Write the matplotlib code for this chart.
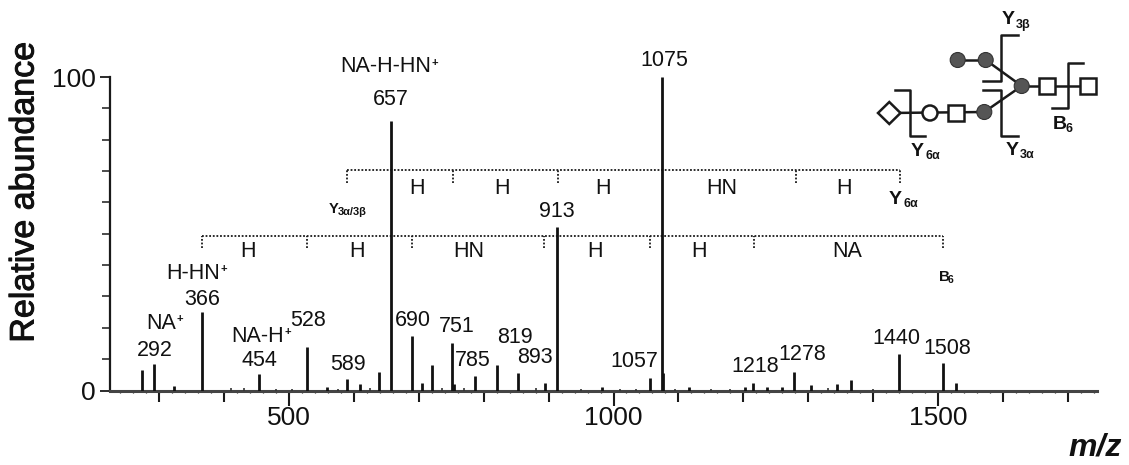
import matplotlib
matplotlib.use("Agg")
import matplotlib.pyplot as plt
import matplotlib.patheffects as pe
from matplotlib.patches import Circle, Rectangle, Polygon

plt.rcParams['font.family'] = ['Liberation Sans', 'DejaVu Sans']

W, H = 1129, 465
INK = '#1a1a1a'

# Spectrum
peak_mz = [273, 292, 323, 366, 454, 528, 558, 589, 609, 639, 657, 690, 705, 720, 751, 755,
           786, 820, 853, 895, 913, 982, 1057, 1075, 1077, 1116, 1203, 1215, 1237, 1260,
           1278, 1304, 1344, 1366, 1440, 1508, 1528]
peak_abundance = [6.4, 8.4, 1.5, 25, 5.3, 13.8, 1.2, 3.7, 2, 6, 86, 17.4, 2.5, 8.2, 15, 2.2,
                  4.7, 8, 5.5, 2.5, 52, 1, 4, 100, 5.5, 1, 1, 2.5, 1, 1,
                  6, 1.7, 2, 3.3, 11.5, 8.7, 2.3]
minor_mz = [410, 430, 480, 505, 575, 625, 735, 770, 880, 950, 1010, 1035, 1095, 1150, 1180, 1330, 1400]
minor_abundance = [0.7, 0.8, 0.5, 0.6, 0.6, 0.8, 0.9, 0.8, 0.7, 0.5, 0.5, 0.5, 0.6, 0.6, 0.6, 0.8, 0.5]

# Neutral-loss ladders
upper_ladder = [590, 752, 914, 1281, 1441]
upper_residues = ['H', 'H', 'H', 'HN', 'H']
lower_ladder = [366, 528, 690, 893, 1057, 1216, 1508]
lower_residues = ['H', 'H', 'HN', 'H', 'H', 'NA']
UPPER_LEVEL, LOWER_LEVEL = 70.4, 49.3

y_ticks = [0, 100]
y_tick_labels = ['0', '100']
x_ticks = [500, 1000, 1500]
x_tick_labels = ['500', '1000', '1500']

# Peak labels: text, centre in figure pixels
peak_labels = [('657', 391, 99), ('1075', 664, 60), ('913', 557, 211), ('366', 202, 299),
               ('292', 155, 350), ('528', 308, 320), ('454', 259, 360), ('589', 348, 364),
               ('690', 413, 320), ('751', 457, 326), ('785', 473, 360), ('819', 515, 337),
               ('893', 535, 357), ('1057', 634, 361), ('1218', 755, 366), ('1278', 802, 354),
               ('1440', 896, 338), ('1508', 947, 348)]
ion_labels = [('NA-H-HN', 386, 67), ('H-HN', 193, 273), ('NA', 161, 323), ('NA-H', 258, 336)]

fig = plt.figure(figsize=(W / 100, H / 100), dpi=100, facecolor='white')

# Spine at px 110, right end px 1097; zero at py 390.5, 100 at py 77
XL, XR, Y0, Y100 = 110, 1097, 390.5, 77
ax = fig.add_axes([XL / W, 1 - Y0 / H, (XR - XL) / W, (Y0 - Y100) / H])
xmin = 500 + (XL - 289) / 0.649
xmax = 500 + (XR - 289) / 0.649
ax.set_xlim(xmin, xmax)
ax.set_ylim(0, 100)
ax.patch.set_alpha(0)
for s in ['top', 'right']:
    ax.spines[s].set_visible(False)
ax.spines['left'].set_linewidth(1.6)
ax.spines['left'].set_color(INK)
ax.spines['bottom'].set_linewidth(2.2)
ax.spines['bottom'].set_color('#444444')

ax.vlines(peak_mz, 0, peak_abundance, color='#111111', lw=2.0, zorder=3)
ax.vlines(minor_mz, 0, minor_abundance, color='#333333', lw=1.2, zorder=3)

ax.set_yticks(y_ticks, y_tick_labels, fontsize=19, color='#111111')
ax.set_yticks(range(0, 101, 10), minor=True)
ax.set_xticks(x_ticks, x_tick_labels, fontsize=19, color='#111111')
ax.set_xticks(range(300, 1701, 100), minor=True)
ax.tick_params(axis='y', which='major', length=7, width=1.3, pad=3, color=INK)
ax.tick_params(axis='y', which='minor', length=6, width=1.1, color=INK)
ax.tick_params(axis='x', which='major', length=11, width=1.5, pad=0, color=INK)
ax.tick_params(axis='x', which='minor', length=8, width=1.5, color=INK)
ax.spines['left'].set_bounds(0, 100)
# fine baseline ticks
ax.vlines(range(240, 1741, 20), -0.9, 0, color=INK, lw=0.9, clip_on=False, zorder=2)


def ladder(levels, level, drop):
    ax.hlines(level, levels[0], levels[-1], color=INK, lw=1.3, linestyles=(0, (1, 1)), zorder=1)
    ax.vlines(levels, level - drop, level, color=INK, lw=1.3, linestyles=(0, (1, 1)), zorder=1)


ladder(upper_ladder, UPPER_LEVEL, 4.2)
ladder(lower_ladder, LOWER_LEVEL, 3.8)

# Overlay in figure pixels for annotation text and the glycan sketch
deco = fig.add_axes([0, 0, 1, 1], facecolor='none')
deco.set_xlim(0, W)
deco.set_ylim(H, 0)
deco.axis('off')


def label(s, x, y, size=15.5, **kw):
    return deco.text(x, y, s, fontsize=size, ha=kw.pop('ha', 'center'), va='center',
                     color='#111111', **kw)


for s, x, y in peak_labels:
    label(s, x, y)
for s, x, y in ion_labels:
    t = label(s, x, y)
    r = t.get_window_extent(fig.canvas.get_renderer())
    label('+', r.x1 + 0.5, y - 4, size=8, ha='left', fontweight='bold')

for s, x in zip(upper_residues, [417, 502, 603, 722, 844]):
    label(s, x, 188)
for s, x in zip(lower_residues, [248, 357, 469, 595, 699, 847]):
    label(s, x, 251)


def sub_label(main, sub, x, y, size, ssize, dx, dy=4):
    label(main, x, y, size=size, ha='left', fontweight='bold')
    label(sub, x + dx, y + dy, size=ssize, ha='left', fontweight='bold')


sub_label('Y', '3α/3β', 329, 209, 10.5, 8, 9, 3)
sub_label('Y', '6α', 889, 199, 14, 9, 14, 5)
sub_label('B', '6', 939, 277, 11, 7.5, 9, 3)
sub_label('Y', '3β', 1002, 20, 14, 9, 14, 5)
sub_label('Y', '6α', 911, 151, 14, 9, 14, 5)
sub_label('Y', '3α', 1006, 150, 14, 9, 14, 5)
sub_label('B', '6', 1053, 124, 14, 9, 13, 5)

t = label('Relative abundance', 25, 192, size=24.5, rotation=90)
t.set_path_effects([pe.withStroke(linewidth=0.7, foreground='#111111')])
label('m/z', 1095, 447, size=23, fontstyle='italic', fontweight='bold')

# Glycan sketch (figure pixels)
links = [((957.7, 60), (985.7, 60)), ((985.7, 60), (1021.7, 86)), ((984.3, 112), (1021.7, 86)),
         ((1021.7, 86), (1088, 86)), ((889.3, 113), (984.3, 112))]
for (x0, y0), (x1, y1) in links:
    deco.plot([x0, x1], [y0, y1], color=INK, lw=1.8, zorder=4)
for x, y in [(957.7, 60), (985.7, 60), (1021.7, 86), (984.3, 112)]:
    deco.add_patch(Circle((x, y), 7.5, fc='#555555', ec='#333333', lw=0.8, zorder=5))
deco.add_patch(Circle((930, 113), 7.5, fc='white', ec=INK, lw=1.8, zorder=5))
for x, y in [(1047.3, 86), (1088, 86), (956.3, 113)]:
    deco.add_patch(Rectangle((x - 8, y - 8), 16, 16, fc='white', ec=INK, lw=1.8, zorder=5))
deco.add_patch(Polygon([(878, 113), (889.3, 102), (900.5, 113), (889.3, 124)], closed=True,
                       fc='white', ec=INK, lw=1.8, zorder=5))
brackets = [[(1018, 35), (1001, 35), (1001, 81), (983, 81)],
            [(983, 90), (1001, 90), (1001, 136), (1018, 136)],
            [(1083, 63), (1068, 63), (1068, 108), (1052, 108)],
            [(895, 90), (910, 90), (910, 136), (925, 136)]]
for b in brackets:
    deco.plot([p[0] for p in b], [p[1] for p in b], color=INK, lw=1.8, zorder=6)

fig.savefig('out.png', dpi=100)
